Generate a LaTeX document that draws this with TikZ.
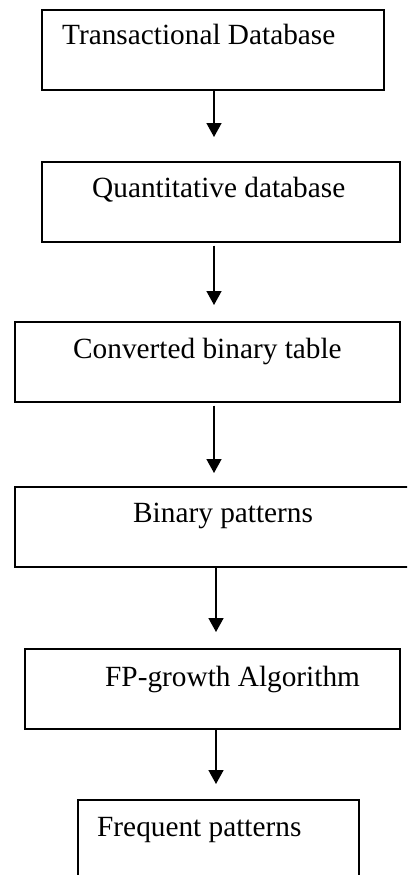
\documentclass[tikz,border=0pt]{standalone}
\usepackage{fontspec}
\setmainfont{Liberation Serif}
\usetikzlibrary{arrows.meta}
\begin{document}
\begin{tikzpicture}[x=1pt,y=-1pt,
  box/.style={draw=black, line width=1.6pt, inner sep=0pt, anchor=north west},
  lbl/.style={anchor=base west, inner sep=0pt, font=\fontsize{29.3}{32}\selectfont},
  arr/.style={line width=1.6pt, -{Triangle[length=14pt,width=15pt]}}]
\useasboundingbox (0,0) rectangle (407,875);
\clip (0,0) rectangle (407,875);
\fill[white] (0,0) rectangle (407,875);
\node[box, minimum width=342pt, minimum height=80pt] (b1) at (41,9) {};
\node[box, minimum width=358pt, minimum height=80pt] (b2) at (41,161) {};
\node[box, minimum width=385pt, minimum height=80pt] (b3) at (14,321) {};
\node[box, minimum width=410pt, minimum height=80pt] (b4) at (14,486) {};
\node[box, minimum width=375pt, minimum height=80pt] (b5) at (24,648) {};
\node[box, minimum width=281pt, minimum height=110pt] (b6) at (77,799) {};
\node[lbl] (t1) at (62,45) {Transactional Database};
\node[lbl] (t2) at (92,197) {Quantitative database};
\node[lbl] (t3) at (73,358) {Converted binary table};
\node[lbl] (t4) at (133,522) {Binary patterns};
\node[lbl] (t5) at (105,686) {FP-growth Algorithm};
\node[lbl] (t6) at (97,836) {Frequent patterns};
\coordinate (p1) at (214,137);
\coordinate (p2) at (214,305);
\coordinate (p3) at (214,473);
\coordinate (p4) at (216,632);
\coordinate (p5) at (216,784);
\draw[arr] (b1.south -| p1) -- (p1);
\draw[arr] ([yshift=-3pt]b2.south -| p2) -- (p2);
\draw[arr] ([yshift=-3pt]b3.south -| p3) -- (p3);
\draw[arr] (b4.south -| p4) -- (p4);
\draw[arr] (b5.south -| p5) -- (p5);
\end{tikzpicture}
\end{document}
